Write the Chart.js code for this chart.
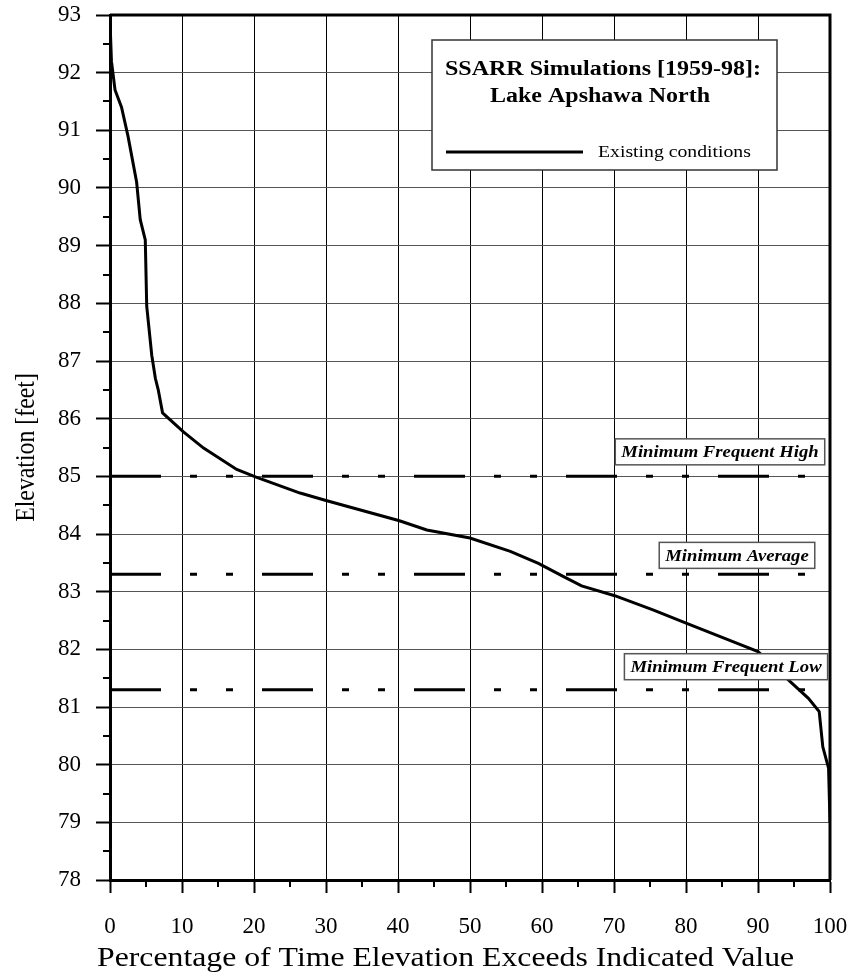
<!DOCTYPE html>
<html>
<head>
<meta charset="utf-8">
<script src="https://cdn.jsdelivr.net/npm/chart.js@4"></script>
<style>
  html, body { margin: 0; padding: 0; background: #fff; }
  #wrap { width: 854px; height: 976px; }
</style>
</head>
<body>
<div id="wrap"><canvas id="chart" width="854" height="976"></canvas></div>
<script>
// Exceedance curve
const pctExceeded = [0, 0.2, 0.7, 1.6, 2.5, 3.7, 4.2, 4.9, 5.1, 5.8, 6.3, 6.7, 7.3, 10.2, 13, 17.6, 20.2, 26.4, 30, 40.2, 44, 50, 55.6, 59.5, 63, 65.5, 70.1, 75.5, 80.1, 86.6, 90, 94.4, 97, 98.5, 99, 99.8, 100]
const elevation   = [92.9, 92.2, 91.7, 91.4, 90.9, 90.1, 89.45, 89.1, 87.95, 87.1, 86.7, 86.5, 86.1, 85.77, 85.49, 85.12, 84.99, 84.71, 84.58, 84.23, 84.07, 83.93, 83.7, 83.49, 83.26, 83.1, 82.93, 82.68, 82.45, 82.13, 81.96, 81.45, 81.15, 80.92, 80.31, 79.94, 79.0]

// Reference elevations
const refNames  = ["Minimum Frequent High", "Minimum Average", "Minimum Frequent Low"]
const refLevels = [85, 83.3, 81.3]

// Axis ticks
const xTickValues = [0, 10, 20, 30, 40, 50, 60, 70, 80, 90, 100]
const yTickValues = [78, 79, 80, 81, 82, 83, 84, 85, 86, 87, 88, 89, 90, 91, 92, 93]

const seriesName = "Existing conditions"
const chartTitle = ["SSARR Simulations [1959-98]:", "Lake Apshawa North"]
const xTitle = "Percentage of Time Elevation Exceeds Indicated Value"
const yTitle = "Elevation [feet]"

const SERIF = "'Liberation Serif', 'Times New Roman', serif"
const DASH = [51, 29, 7, 29, 7, 29]

// label box placement (center x, offset of center above the line)
const refBoxes = [
  { cx: 720, dy: -24.5 },
  { cx: 737, dy: -19 },
  { cx: 726, dy: -23 }
]

const datasets = [{
  label: seriesName,
  data: pctExceeded.map((p, i) => ({ x: p, y: elevation[i] })),
  borderColor: "#000",
  borderWidth: 3,
  pointRadius: 0,
  tension: 0
}]
refLevels.forEach(function(lvl, i) {
  datasets.push({
    label: refNames[i],
    data: [{ x: 0, y: lvl }, { x: 100, y: lvl }],
    borderColor: "#000",
    borderWidth: 3,
    borderDash: DASH,
    borderCapStyle: "butt",
    pointRadius: 0
  })
})

// text drawn a bit wider than the font, like the original export
function stretchedText(ctx, text, x, y, sx, align) {
  ctx.save()
  ctx.translate(x, y)
  ctx.scale(sx, 1)
  ctx.textAlign = align
  ctx.fillText(text, 0, 0)
  ctx.restore()
}

const decorPlugin = {
  id: "decor",
  afterDatasetsDraw(chart) {
    const ctx = chart.ctx
    const a = chart.chartArea
    const xs = chart.scales.x
    const ys = chart.scales.y
    ctx.save()

    // frame top & right
    ctx.strokeStyle = "#000"
    ctx.lineWidth = 3
    ctx.beginPath()
    ctx.moveTo(a.left, a.top)
    ctx.lineTo(a.right, a.top)
    ctx.lineTo(a.right, a.bottom)
    ctx.stroke()

    // minor ticks
    ctx.lineWidth = 2
    ctx.beginPath()
    for (let v = 78.5; v < 93; v += 1) {
      const py = Math.round(ys.getPixelForValue(v))
      ctx.moveTo(a.left - 7, py)
      ctx.lineTo(a.left, py)
    }
    for (let v = 5; v < 100; v += 10) {
      const px = Math.round(xs.getPixelForValue(v))
      ctx.moveTo(px, a.bottom)
      ctx.lineTo(px, a.bottom + 7)
    }
    ctx.stroke()

    // reference labels
    ctx.font = "italic bold 17px " + SERIF
    ctx.textBaseline = "middle"
    refNames.forEach(function(name, i) {
      const b = refBoxes[i]
      const cy = ys.getPixelForValue(refLevels[i]) + b.dy
      const w = ctx.measureText(name).width * 1.1 + 12
      const h = 26
      ctx.fillStyle = "#fff"
      ctx.fillRect(b.cx - w / 2, cy - h / 2, w, h)
      ctx.strokeStyle = "#555"
      ctx.lineWidth = 1.5
      ctx.strokeRect(b.cx - w / 2, cy - h / 2, w, h)
      ctx.fillStyle = "#000"
      stretchedText(ctx, name, b.cx, cy + 1, 1.1, "center")
    })

    // legend box
    const lx = 432, ly = 40, lw = 345, lh = 130
    ctx.fillStyle = "#fff"
    ctx.fillRect(lx, ly, lw, lh)
    ctx.strokeStyle = "#333"
    ctx.lineWidth = 1.5
    ctx.strokeRect(lx, ly, lw, lh)
    ctx.fillStyle = "#000"
    ctx.font = "bold 20px " + SERIF
    stretchedText(ctx, chartTitle[0], 603, 70, 1.2, "center")
    stretchedText(ctx, chartTitle[1], 600, 97, 1.2, "center")
    ctx.strokeStyle = "#000"
    ctx.lineWidth = 3
    ctx.beginPath()
    ctx.moveTo(446, 152)
    ctx.lineTo(583, 152)
    ctx.stroke()
    ctx.font = "17px " + SERIF
    stretchedText(ctx, seriesName, 598, 153, 1.16, "left")

    // axis titles
    ctx.font = "28px " + SERIF
    ctx.textBaseline = "alphabetic"
    stretchedText(ctx, xTitle, 97, 966, 1.134, "left")
    ctx.save()
    ctx.translate(27, (a.top + a.bottom) / 2)
    ctx.rotate(-Math.PI / 2)
    ctx.textBaseline = "middle"
    stretchedText(ctx, yTitle, 0, 0, 0.85, "center")
    ctx.restore()
    ctx.restore()
  }
}

new Chart(document.getElementById("chart"), {
  type: "line",
  data: { datasets: datasets },
  plugins: [decorPlugin],
  options: {
    responsive: false,
    animation: false,
    layout: { padding: { top: 15, right: 24, left: 0, bottom: 0 } },
    plugins: {
      legend: { display: false },
      tooltip: { enabled: false }
    },
    scales: {
      x: {
        type: "linear",
        min: 0,
        max: 100,
        afterBuildTicks: s => { s.ticks = xTickValues.map(v => ({ value: v })) },
        afterFit: s => { s.height = 96; s.paddingLeft = 0; s.paddingRight = 0 },
        ticks: {
          color: "#000",
          font: { family: SERIF, size: 23 },
          padding: 20,
          maxRotation: 0
        },
        grid: { color: "#000", lineWidth: 1, tickLength: 13, tickWidth: 2, tickColor: "#000" },
        border: { color: "#000", width: 3 }
      },
      y: {
        type: "linear",
        min: 78,
        max: 93,
        afterBuildTicks: s => { s.ticks = yTickValues.map(v => ({ value: v })) },
        afterFit: s => { s.width = 110; s.paddingTop = 0; s.paddingBottom = 0 },
        ticks: {
          color: "#000",
          font: { family: SERIF, size: 23 },
          padding: 15
        },
        grid: { color: "#555", lineWidth: 1, tickLength: 14, tickWidth: 2, tickColor: "#000" },
        border: { color: "#000", width: 3 }
      }
    }
  }
})
</script>
</body>
</html>
